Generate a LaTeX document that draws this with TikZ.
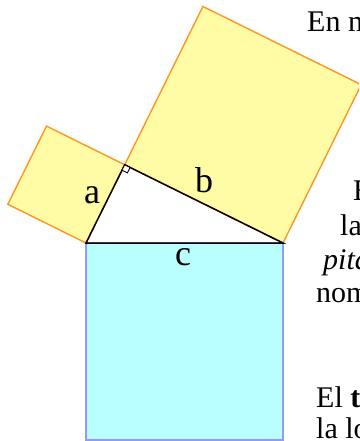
\documentclass[tikz,border=0pt]{standalone}
\usepackage{fontspec}
\setmainfont{Liberation Serif}
\definecolor{sqyellow}{RGB}{255,252,165}
\definecolor{sqorange}{RGB}{255,150,35}
\definecolor{sqblue}{RGB}{185,255,255}
\definecolor{sqblueline}{RGB}{150,150,255}
\tikzset{
  yellowsq/.style={fill=sqyellow, draw=sqorange, line width=1.4pt, line join=miter},
  bluesq/.style={fill=sqblue, draw=sqblueline, line width=2pt},
  leg/.style={draw=black, line width=1.5pt},
  sidelabel/.style={inner sep=0pt, font=\fontsize{36}{42}\selectfont},
  bodytext/.style={inner sep=0pt, anchor=base west, font=\fontsize{30}{36}\selectfont}
}
\begin{document}
\begin{tikzpicture}[x=1pt,y=-1pt]
\useasboundingbox (0,0) rectangle (359,441);
\clip (0,0) rectangle (359,441);
\coordinate (A) at (86,243);
\coordinate (B) at (283,243);
\coordinate (C) at (124.7,164.8);
\coordinate (A2) at (7.8,204.3);
\coordinate (C2) at (46.5,126.1);
\coordinate (C3) at (202.9,6.5);
\coordinate (B3) at (361.2,84.7);
\coordinate (A4) at (86,440);
\coordinate (B4) at (283,440);
\coordinate (R1) at (122.0,170.2);
\coordinate (R2) at (127.4,172.9);
\coordinate (R3) at (130.1,167.5);
% squares
\path[yellowsq] (A) -- (C) -- (C2) -- (A2) -- cycle;
\path[yellowsq] (C) -- (B) -- (B3) -- (C3) -- cycle;
\path[bluesq] (A) -- (A4) -- (B4) -- (B) -- cycle;
% triangle
\path[leg] (A) -- (C) -- (B) -- cycle;
\path[draw=black, fill=white, line width=0.9pt] (C) -- (R1) -- (R2) -- (R3) -- cycle;
% labels
\node[sidelabel] (la) at (92,195) {a};
\node[sidelabel] (lb) at (204,180.5) {b};
\node[sidelabel] (lc) at (183,257) {c};
% text on the right
\node[bodytext] (t1) at (307,32) {En m};
\node[bodytext] (t2) at (353,200) {El};
\node[bodytext] (t3) at (340,235) {las};
\node[bodytext] (t4) at (323,269) {\textit{pitá}};
\node[bodytext] (t5) at (316,302) {nom};
\node[bodytext] (t6) at (316,407) {El \textbf{t}};
\node[bodytext] (t7) at (316,438) {la lo};
\end{tikzpicture}
\end{document}
